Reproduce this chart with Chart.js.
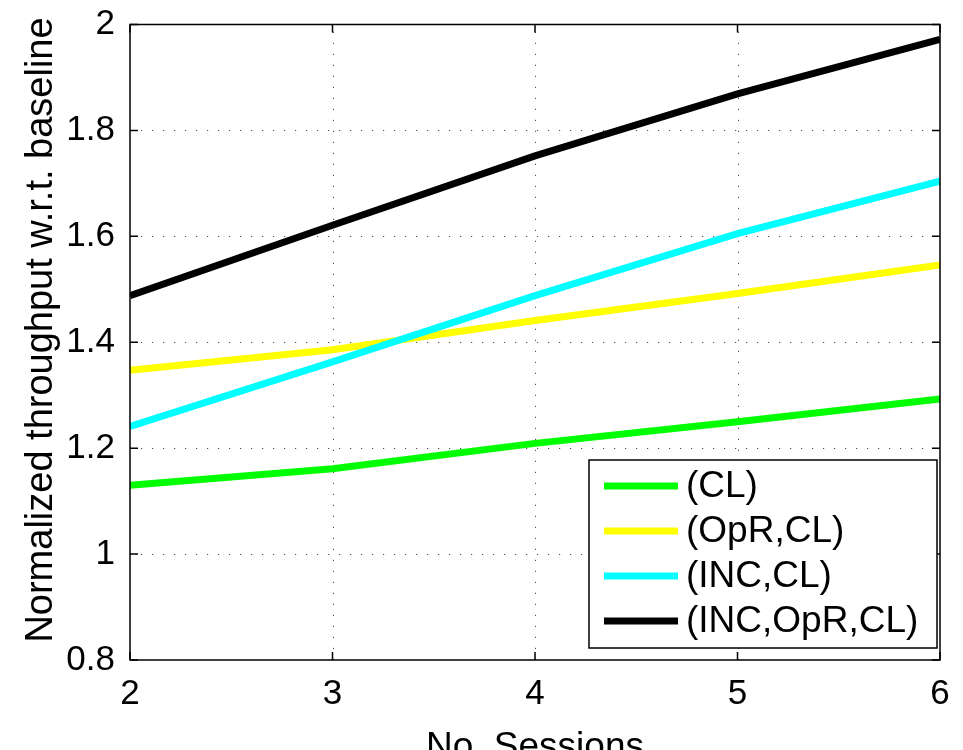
<!DOCTYPE html>
<html>
<head>
<meta charset="utf-8">
<script src="https://cdn.jsdelivr.net/npm/chart.js@4/dist/chart.umd.min.js"></script>
<style>
  html, body { margin: 0; padding: 0; background: #ffffff; overflow: hidden; }
  #wrap { width: 963px; height: 750px; }
</style>
</head>
<body>
<div id="wrap"><canvas id="chart" width="963" height="750"></canvas></div>
<script>
// Number of sessions on the x axis
const sessions = [2, 3, 4, 5, 6];
const xTickLabels = ['2', '3', '4', '5', '6'];

// Normalized throughput for each scheme
const seriesNames = ['(CL)', '(OpR,CL)', '(INC,CL)', '(INC,OpR,CL)'];
const clValues = [1.130, 1.161, 1.209, 1.250, 1.293];
const oprClValues = [1.347, 1.386, 1.441, 1.492, 1.546];
const incClValues = [1.241, 1.363, 1.488, 1.605, 1.704];
const incOprClValues = [1.488, 1.621, 1.752, 1.869, 1.972];

// Y axis ticks
const yTicks = [0.8, 1, 1.2, 1.4, 1.6, 1.8, 2];
const yTickLabels = ['0.8', '1', '1.2', '1.4', '1.6', '1.8', '2'];

const xTitle = 'No. Sessions';
const yTitle = 'Normalized throughput w.r.t. baseline';

const seriesColors = ['#00ff00', '#ffff00', '#00ffff', '#000000'];
const allSeries = [clValues, oprClValues, incClValues, incOprClValues];

const FONT = 'Liberation Sans, Arial, Helvetica, sans-serif';
const LINE_W = 7;

const datasets = allSeries.map((vals, i) => ({
  label: seriesNames[i],
  data: sessions.map((s, j) => ({ x: s, y: vals[j] })),
  borderColor: seriesColors[i],
  backgroundColor: seriesColors[i],
  borderWidth: LINE_W,
  pointRadius: 0,
  tension: 0,
  fill: false,
  order: allSeries.length - i
}));

// Dotted grid behind the lines
const gridPlugin = {
  id: 'dottedGrid',
  beforeDatasetsDraw(chart) {
    const { ctx, chartArea: a, scales } = chart;
    ctx.save();
    ctx.strokeStyle = 'rgba(0,0,0,0.7)';
    ctx.lineWidth = 1;
    ctx.setLineDash([1.2, 9.8]);
    ctx.beginPath();
    sessions.slice(1, -1).forEach(v => {
      const px = Math.round(scales.x.getPixelForValue(v)) + 0.5;
      ctx.moveTo(px, a.bottom); ctx.lineTo(px, a.top);
    });
    yTicks.slice(1, -1).forEach(v => {
      const py = Math.round(scales.y.getPixelForValue(v)) + 0.5;
      ctx.moveTo(a.left, py); ctx.lineTo(a.right, py);
    });
    ctx.stroke();
    ctx.restore();
  }
};

// Box, inward ticks, y title and the in-plot legend
const framePlugin = {
  id: 'frame',
  afterDraw(chart) {
    const { ctx, chartArea: a, scales } = chart;
    const x = scales.x, y = scales.y;
    ctx.save();
    ctx.strokeStyle = '#000000';
    ctx.lineWidth = 1.5;
    ctx.strokeRect(a.left, a.top, a.right - a.left, a.bottom - a.top);
    const tl = 8;
    ctx.beginPath();
    sessions.forEach(v => {
      const px = x.getPixelForValue(v);
      ctx.moveTo(px, a.bottom); ctx.lineTo(px, a.bottom - tl);
      ctx.moveTo(px, a.top); ctx.lineTo(px, a.top + tl);
    });
    yTicks.forEach(v => {
      const py = y.getPixelForValue(v);
      ctx.moveTo(a.left, py); ctx.lineTo(a.left + tl, py);
      ctx.moveTo(a.right, py); ctx.lineTo(a.right - tl, py);
    });
    ctx.stroke();

    // rotated y-axis title
    ctx.save();
    ctx.translate(52, 330);
    ctx.rotate(-Math.PI / 2);
    ctx.font = '38px ' + FONT;
    ctx.fillStyle = '#000000';
    ctx.textAlign = 'center';
    ctx.textBaseline = 'alphabetic';
    ctx.fillText(yTitle, 0, 0);
    ctx.restore();

    // legend box
    const bx = 589, by = 460, bw = 348, bh = 188;
    ctx.fillStyle = '#ffffff';
    ctx.fillRect(bx, by, bw, bh);
    ctx.lineWidth = 1.5;
    ctx.strokeStyle = '#000000';
    ctx.strokeRect(bx, by, bw, bh);
    const rows = [486, 531, 576, 621];
    ctx.font = '37px ' + FONT;
    ctx.textBaseline = 'middle';
    ctx.textAlign = 'left';
    chart.data.datasets.forEach((ds, i) => {
      const ry = rows[i];
      ctx.strokeStyle = ds.borderColor;
      ctx.lineWidth = LINE_W;
      ctx.beginPath();
      ctx.moveTo(604, ry); ctx.lineTo(678, ry);
      ctx.stroke();
      ctx.fillStyle = '#000000';
      ctx.fillText(ds.label, 686, ry + 1);
    });
    ctx.restore();
  }
};

new Chart(document.getElementById('chart'), {
  type: 'line',
  data: { datasets },
  options: {
    responsive: false,
    animation: false,
    layout: { padding: { top: 20, right: 23, left: 0, bottom: 0 } },
    plugins: { legend: { display: false }, tooltip: { enabled: false } },
    scales: {
      x: {
        type: 'linear',
        min: 2, max: 6,
        afterFit(scale) { scale.height = 90; },
        afterBuildTicks(scale) { scale.ticks = sessions.map(v => ({ value: v })); },
        ticks: {
          color: '#000000',
          font: { family: FONT, size: 35, lineHeight: 1 },
          padding: 9,
          maxRotation: 0,
          callback: (v) => xTickLabels[sessions.indexOf(v)]
        },
        grid: { display: false },
        border: { display: false },
        title: {
          display: true,
          text: xTitle,
          color: '#000000',
          font: { family: FONT, size: 37, lineHeight: 1.2 },
          padding: { top: 0, bottom: -20 }
        }
      },
      y: {
        type: 'linear',
        min: 0.8, max: 2,
        afterFit(scale) { scale.width = 130; },
        afterBuildTicks(scale) { scale.ticks = yTicks.map(v => ({ value: v })); },
        ticks: {
          color: '#000000',
          font: { family: FONT, size: 35, lineHeight: 1 },
          padding: 7,
          callback: (v) => yTickLabels[yTicks.findIndex(t => Math.abs(t - v) < 1e-9)]
        },
        grid: { display: false },
        border: { display: false },
        title: { display: false }
      }
    }
  },
  plugins: [gridPlugin, framePlugin]
});
</script>
</body>
</html>
